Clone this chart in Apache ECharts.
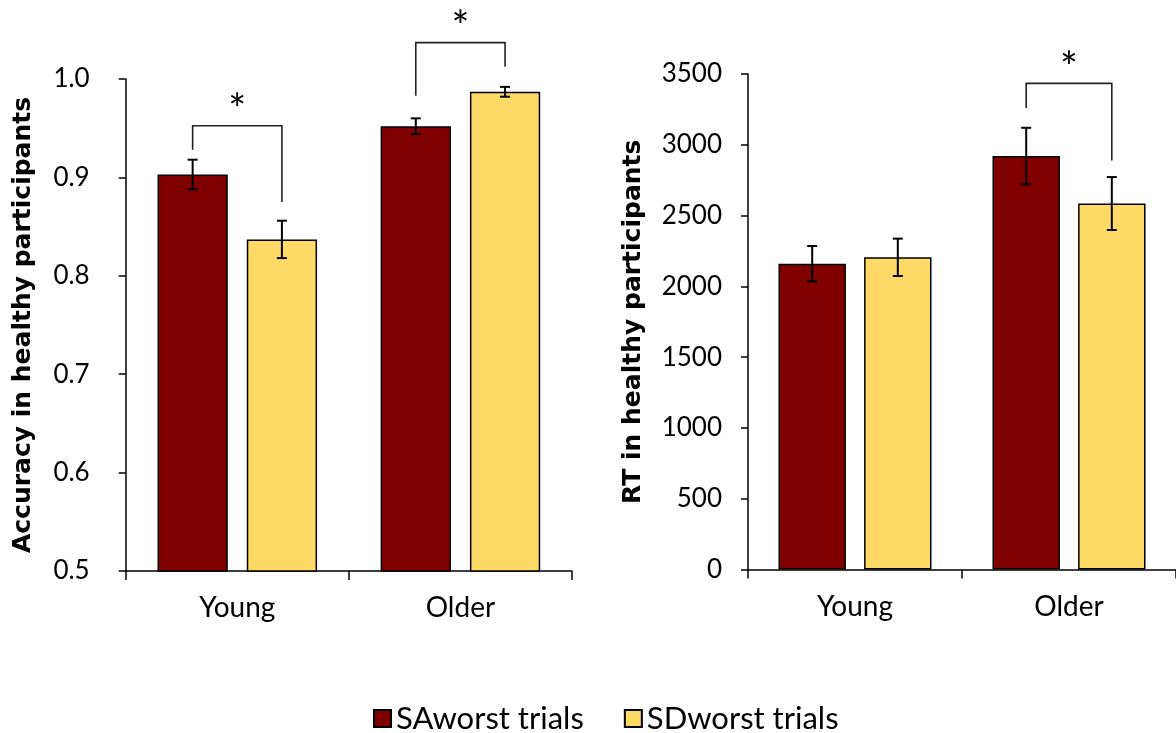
<!DOCTYPE html>
<html>
<head>
<meta charset="utf-8">
<script src="https://cdn.jsdelivr.net/npm/echarts@6/dist/echarts.min.js"></script>
<style>
html,body{margin:0;padding:0;background:#fff;}
#chart{width:1176px;height:733px;}
</style>
</head>
<body>
<div id="chart"></div>
<script>
// ---- data ----
var categories = ['Young', 'Older'];
var seriesNames = ['SAworst trials', 'SDworst trials'];

var accSA = [0.903, 0.952];
var accSAerr = [0.015, 0.008];
var accSD = [0.837, 0.987];
var accSDerr = [0.019, 0.005];

var rtSA = [2160, 2920];
var rtSAerr = [125, 200];
var rtSD = [2205, 2585];
var rtSDerr = [132, 187];

// significance brackets: [categoryIndex, leftLegEnd, top, rightLegEnd, starLevel]
var accBrackets = [[0, 0.928, 0.9525, 0.875, 0.9787], [1, 0.983, 1.037, 1.0125, 1.0633]];
var rtBrackets = [[1, 3259, 3434, 2889, 3610]];

// ---- style ----
var FONT = 'Lato';
var TITLE_FONT = 'DejaVu Sans';
var STAR_SIZE = 42;
var barWidthFrac = 0.315;
var barGapFrac = 0.27;
var offsetFrac = (barWidthFrac + barWidthFrac * barGapFrac) / 2;
var colSA = '#800000';
var colSD = '#FFD966';

function errItem(sign) {
  return function (params, api) {
    var cat = api.value(0), lo = api.value(1), hi = api.value(2);
    var band = api.size([1, 0])[0];
    var pLo = api.coord([cat, lo]);
    var pHi = api.coord([cat, hi]);
    var x = pLo[0] + sign * band * offsetFrac;
    var hw = 5;
    var st = { stroke: '#000', lineWidth: 2 };
    return {
      type: 'group',
      children: [
        { type: 'line', shape: { x1: x, y1: pHi[1], x2: x, y2: pLo[1] }, style: st },
        { type: 'line', shape: { x1: x - hw, y1: pHi[1], x2: x + hw, y2: pHi[1] }, style: st },
        { type: 'line', shape: { x1: x - hw, y1: pLo[1], x2: x + hw, y2: pLo[1] }, style: st }
      ]
    };
  };
}

function bracketItem(params, api) {
  var cat = api.value(0);
  var band = api.size([1, 0])[0];
  var c = api.coord([cat, api.value(2)]);
  var xl = c[0] - band * offsetFrac;
  var xr = c[0] + band * offsetFrac;
  var yTop = c[1];
  var yL = api.coord([cat, api.value(1)])[1];
  var yR = api.coord([cat, api.value(3)])[1];
  var yS = api.coord([cat, api.value(4)])[1];
  var st = { stroke: '#222', lineWidth: 1.6, fill: null };
  return {
    type: 'group',
    children: [
      { type: 'polyline', shape: { points: [[xl, yL], [xl, yTop], [xr, yTop], [xr, yR]] }, style: st },
      { type: 'text', x: c[0], y: yS + 0.25 * STAR_SIZE, style: { text: '*', fontSize: STAR_SIZE, fontFamily: FONT, fill: '#000', align: 'center', verticalAlign: 'middle' } }
    ]
  };
}

function errData(vals, errs) {
  return categories.map(function (c, i) { return [i, vals[i] - errs[i], vals[i] + errs[i]]; });
}

var axisLine = { show: true, lineStyle: { color: '#000', width: 1.5 } };
var labelStyle = { color: '#000', fontSize: 26, fontFamily: FONT };
var titleStyle = { color: '#000', fontSize: 25, fontWeight: 'bold', fontFamily: TITLE_FONT };

var chart = echarts.init(document.getElementById('chart'));
chart.setOption({
  animation: false,
  backgroundColor: '#fff',
  grid: [
    { left: 125.7, top: 79, width: 446.3, height: 492 },
    { left: 748, top: 74, width: 428, height: 495.5 }
  ],
  legend: {
    data: seriesNames,
    top: 698,
    left: 368,
    icon: 'rect',
    itemWidth: 17,
    itemHeight: 17,
    itemGap: 40,
    textStyle: { color: '#000', fontSize: 31, fontFamily: FONT }
  },
  xAxis: [0, 1].map(function (g) {
    return {
      type: 'category', gridIndex: g, data: categories,
      axisLine: axisLine,
      axisTick: { show: true, length: 9, lineStyle: { color: '#000', width: 1.5 } },
      axisLabel: { margin: 23, color: '#000', fontSize: 28, fontFamily: FONT }
    };
  }),
  yAxis: [
    {
      type: 'value', gridIndex: 0, min: 0.5, max: 1.0, interval: 0.1,
      name: 'Accuracy in healthy participants', nameLocation: 'middle', nameRotate: 90, nameGap: 90,
      nameTextStyle: titleStyle,
      axisLine: axisLine,
      axisTick: { show: true, length: 7, lineStyle: { color: '#000', width: 1.5 } },
      splitLine: { show: false },
      axisLabel: Object.assign({ margin: 36, formatter: function (v) { return v.toFixed(1); } }, labelStyle)
    },
    {
      type: 'value', gridIndex: 1, min: 0, max: 3500, interval: 500,
      name: 'RT in healthy participants', nameLocation: 'middle', nameRotate: 90, nameGap: 102,
      nameTextStyle: titleStyle,
      axisLine: axisLine,
      axisTick: { show: true, length: 7, lineStyle: { color: '#000', width: 1.5 } },
      splitLine: { show: false },
      axisLabel: Object.assign({ margin: 26, formatter: function (v) { return String(v); } }, labelStyle)
    }
  ],
  series: [
    { name: seriesNames[0], type: 'bar', xAxisIndex: 0, yAxisIndex: 0, data: accSA, barWidth: (barWidthFrac * 100) + '%', barGap: (barGapFrac * 100) + '%',
      itemStyle: { color: colSA, borderColor: '#000', borderWidth: 1.5 } },
    { name: seriesNames[1], type: 'bar', xAxisIndex: 0, yAxisIndex: 0, data: accSD, barWidth: (barWidthFrac * 100) + '%', barGap: (barGapFrac * 100) + '%',
      itemStyle: { color: colSD, borderColor: '#000', borderWidth: 1.5 } },
    { name: seriesNames[0], type: 'bar', xAxisIndex: 1, yAxisIndex: 1, data: rtSA, barWidth: (barWidthFrac * 100) + '%', barGap: (barGapFrac * 100) + '%',
      itemStyle: { color: colSA, borderColor: '#000', borderWidth: 1.5 } },
    { name: seriesNames[1], type: 'bar', xAxisIndex: 1, yAxisIndex: 1, data: rtSD, barWidth: (barWidthFrac * 100) + '%', barGap: (barGapFrac * 100) + '%',
      itemStyle: { color: colSD, borderColor: '#000', borderWidth: 1.5 } },
    { name: 'errA1', type: 'custom', xAxisIndex: 0, yAxisIndex: 0, renderItem: errItem(-1), data: errData(accSA, accSAerr), encode: { x: 0, y: [1, 2] }, z: 5, clip: false },
    { name: 'errA2', type: 'custom', xAxisIndex: 0, yAxisIndex: 0, renderItem: errItem(1), data: errData(accSD, accSDerr), encode: { x: 0, y: [1, 2] }, z: 5, clip: false },
    { name: 'errR1', type: 'custom', xAxisIndex: 1, yAxisIndex: 1, renderItem: errItem(-1), data: errData(rtSA, rtSAerr), encode: { x: 0, y: [1, 2] }, z: 5, clip: false },
    { name: 'errR2', type: 'custom', xAxisIndex: 1, yAxisIndex: 1, renderItem: errItem(1), data: errData(rtSD, rtSDerr), encode: { x: 0, y: [1, 2] }, z: 5, clip: false },
    { name: 'brA', type: 'custom', xAxisIndex: 0, yAxisIndex: 0, renderItem: bracketItem, data: accBrackets, encode: { x: 0, y: [1, 2, 3, 4] }, z: 5, clip: false },
    { name: 'brR', type: 'custom', xAxisIndex: 1, yAxisIndex: 1, renderItem: bracketItem, data: rtBrackets, encode: { x: 0, y: [1, 2, 3, 4] }, z: 5, clip: false }
  ]
});
</script>
</body>
</html>
